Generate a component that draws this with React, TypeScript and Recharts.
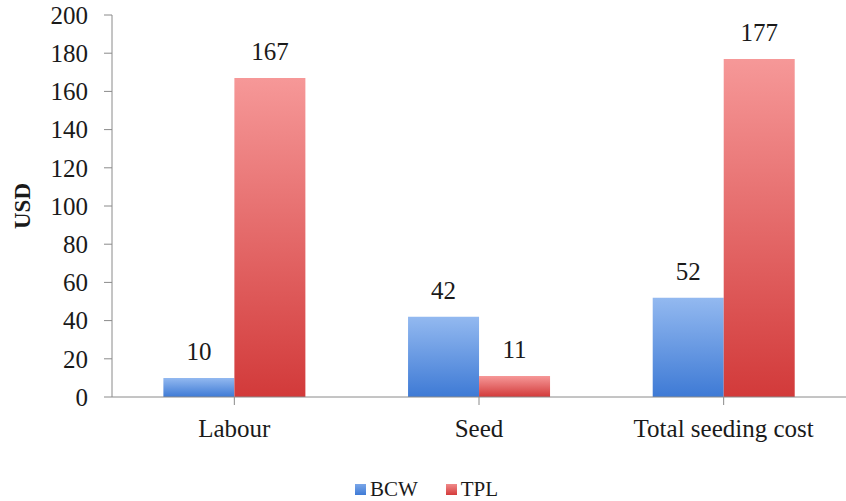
import { Bar, BarChart, LabelList, Legend, XAxis, YAxis } from 'recharts';

const categories = ['Labour', 'Seed', 'Total seeding cost'];
const bcwValues = [10, 42, 52];
const tplValues = [167, 11, 177];
const yTicks = [0, 20, 40, 60, 80, 100, 120, 140, 160, 180, 200];

const FONT = '"Liberation Serif", serif';
const TEXT = '#1a1a1a';
const AXIS = '#8a8a8a';

const data = categories.map((name, i) => ({ name, BCW: bcwValues[i], TPL: tplValues[i] }));

const LegendBox = () => (
  <div
    style={{
      display: 'flex',
      justifyContent: 'center',
      alignItems: 'center',
      height: 24,
      paddingLeft: 7,
      fontFamily: FONT,
      fontSize: 21,
      color: TEXT,
    }}
  >
    <span style={{ width: 11, height: 11, background: 'linear-gradient(#7aa6e8, #3f7bd6)', marginRight: 4 }} />
    <span style={{ marginRight: 28 }}>BCW</span>
    <span style={{ width: 11, height: 11, background: 'linear-gradient(#f08a8a, #d43b3b)', marginRight: 4 }} />
    <span>TPL</span>
  </div>
);

const UsdLabel = ({ viewBox }: { viewBox?: { x: number; y: number; width: number; height: number } }) => {
  if (!viewBox) return null;
  const cy = viewBox.y + viewBox.height / 2;
  return (
    <text
      x={22}
      y={cy}
      transform={`rotate(-90 22 ${cy})`}
      textAnchor="middle"
      dominantBaseline="central"
      fontFamily={FONT}
      fontWeight="bold"
      fontSize={23}
      fill={TEXT}
    >
      USD
    </text>
  );
};

export default function App() {
  return (
    <div style={{ width: 846, height: 501, background: '#fff' }}>
      <style>{'body{margin:0}'}</style>
      <BarChart
        width={846}
        height={501}
        data={data}
        margin={{ top: 15, right: 0, left: 30, bottom: 0 }}
        barCategoryGap="21%"
        barGap={0}
      >
        <defs>
          <linearGradient id="gBlue" x1="0" y1="0" x2="0" y2="1">
            <stop offset="0%" stopColor="#93b9f0" />
            <stop offset="100%" stopColor="#3e7ad5" />
          </linearGradient>
          <linearGradient id="gRed" x1="0" y1="0" x2="0" y2="1">
            <stop offset="0%" stopColor="#f69898" />
            <stop offset="100%" stopColor="#d23a3a" />
          </linearGradient>
        </defs>
        <XAxis
          dataKey="name"
          height={80}
          axisLine={{ stroke: AXIS }}
          tickLine={{ stroke: AXIS }}
          tickSize={8}
          tickMargin={14}
          tick={{ fontFamily: FONT, fontSize: 25, fill: TEXT }}
        />
        <YAxis
          width={82}
          domain={[0, 200]}
          ticks={yTicks}
          interval={0}
          axisLine={{ stroke: AXIS }}
          tickLine={{ stroke: AXIS }}
          tickSize={8}
          tickMargin={16}
          tick={{ fontFamily: FONT, fontSize: 25, fill: TEXT }}
          label={<UsdLabel />}
        />
        <Legend
          verticalAlign="bottom"
          height={24}
          wrapperStyle={{ left: 0, width: 846 }}
          content={<LegendBox />}
        />
        <Bar dataKey="BCW" fill="url(#gBlue)" isAnimationActive={false}>
          <LabelList dataKey="BCW" position="top" offset={18} fontFamily={FONT} fontSize={25} fill={TEXT} />
        </Bar>
        <Bar dataKey="TPL" fill="url(#gRed)" isAnimationActive={false}>
          <LabelList dataKey="TPL" position="top" offset={18} fontFamily={FONT} fontSize={25} fill={TEXT} />
        </Bar>
      </BarChart>
    </div>
  );
}
